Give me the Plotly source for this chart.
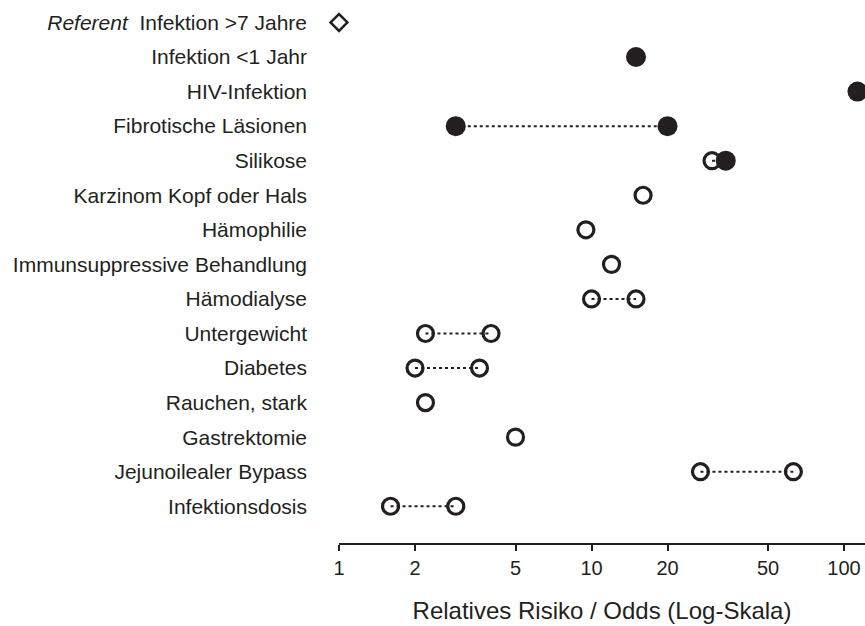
import plotly.graph_objects as go

categories = [
    "<i>Referent</i>&nbsp; Infektion &gt;7 Jahre",
    "Infektion &lt;1 Jahr",
    "HIV-Infektion",
    "Fibrotische Läsionen",
    "Silikose",
    "Karzinom Kopf oder Hals",
    "Hämophilie",
    "Immunsuppressive Behandlung",
    "Hämodialyse",
    "Untergewicht",
    "Diabetes",
    "Rauchen, stark",
    "Gastrektomie",
    "Jejunoilealer Bypass",
    "Infektionsdosis",
]
value_a = [1.0, 15, 113, 2.9, 30, 16, 9.5, 12, 10, 2.2, 2.0, 2.2, 5.0, 27, 1.6]
value_b = [None, None, None, 20, 34, None, None, None, 15, 4.0, 3.6, None, None, 63, 2.9]
style_a = ["referent", "filled", "filled", "filled", "open", "open", "open", "open",
           "open", "open", "open", "open", "open", "open", "open"]
style_b = [None, None, None, "filled", "filled", None, None, None,
           "open", "open", "open", None, None, "open", "open"]
tick_values = [1, 2, 5, 10, 20, 50, 100]
x_title = "Relatives Risiko / Odds (Log-Skala)"

INK = "#231f20"
rows = list(range(len(categories)))

fig = go.Figure()

# dotted connecting lines
lx, ly = [], []
for r, a, b in zip(rows, value_a, value_b):
    if b is not None:
        lx += [a, b, None]
        ly += [r, r, None]
fig.add_trace(go.Scatter(x=lx, y=ly, mode="lines",
                         line=dict(color=INK, width=2, dash="dot"),
                         hoverinfo="skip", showlegend=False, cliponaxis=False))

def collect(style):
    xs, ys = [], []
    for r, a, sa, b, sb in zip(rows, value_a, style_a, value_b, style_b):
        if sa == style:
            xs.append(a); ys.append(r)
        if sb == style and b is not None:
            xs.append(b); ys.append(r)
    return xs, ys

ox, oy = collect("open")
fig.add_trace(go.Scatter(x=ox, y=oy, mode="markers", cliponaxis=False,
                         marker=dict(symbol="circle-open", size=16,
                                     line=dict(color=INK, width=3.2), color=INK),
                         showlegend=False))
fx, fy = collect("filled")
fig.add_trace(go.Scatter(x=fx, y=fy, mode="markers", cliponaxis=False,
                         marker=dict(symbol="circle", size=20, color=INK,
                                     line=dict(width=0)),
                         showlegend=False))
rx, ry = collect("referent")
fig.add_trace(go.Scatter(x=rx, y=ry, mode="markers", cliponaxis=False,
                         marker=dict(symbol="diamond-open", size=13,
                                     line=dict(color=INK, width=2.5), color=INK),
                         showlegend=False))

fig.update_layout(
    width=865, height=626,
    margin=dict(l=339.3, r=0, t=0, b=82.5),
    paper_bgcolor="white", plot_bgcolor="white",
    font=dict(family="Liberation Sans, Arial, sans-serif", color=INK, size=20),
)
fig.update_xaxes(
    type="log", range=[0, 2.083],
    tickvals=tick_values, ticktext=[str(v) for v in tick_values],
    ticks="outside", ticklen=6, tickwidth=1.5, tickcolor=INK,
    showline=True, linecolor=INK, linewidth=1.5,
    showgrid=False, zeroline=False,
    tickfont=dict(size=20),
    title=dict(text=x_title, font=dict(size=24), standoff=24),
)
fig.update_yaxes(
    range=[15.063, -0.65],
    tickvals=rows, ticktext=categories,
    showline=False, showgrid=False, zeroline=False, ticks="",
    ticklabelstandoff=31,
    tickfont=dict(size=21),
)

fig.write_html(
    "out.html",
    config={"displayModeBar": False},
    post_script="document.documentElement.style.overflow='hidden';"
                "document.body.style.overflow='hidden';"
                "document.body.style.margin='0';",
)
